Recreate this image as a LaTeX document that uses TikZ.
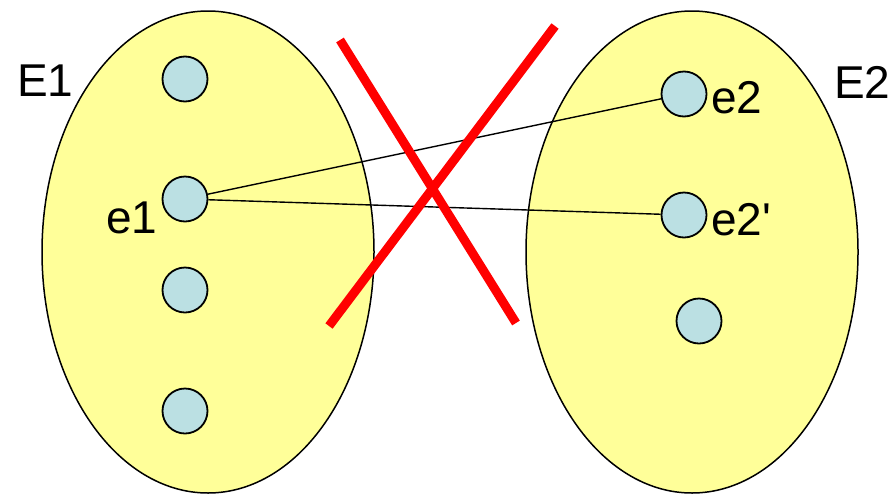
\documentclass[tikz,border=0pt]{standalone}
\usepackage{fontspec}
\setmainfont{Liberation Sans}
\usetikzlibrary{shapes.geometric}
\definecolor{setyellow}{HTML}{FFFF99}
\definecolor{dotblue}{HTML}{BBE0E3}
\begin{document}
\begin{tikzpicture}[x=1pt,y=-1pt,
  setell/.style={ellipse,draw=black,line width=1.5pt,fill=setyellow,inner sep=0pt,minimum width=332pt,minimum height=482pt},
  dot/.style={circle,draw=black,line width=1.8pt,fill=dotblue,inner sep=0pt,minimum size=45pt},
  lbl/.style={font=\fontsize{46}{50}\selectfont,inner sep=0pt},
  link/.style={draw=black,line width=1.4pt},
  cross/.style={draw=red,line width=9pt}]
\useasboundingbox (0,0) rectangle (891,493);
\node[setell] (E1) at (208,252) {};
\node[setell] (E2) at (692,252) {};
\node[dot] (a1) at (185,79) {};
\node[dot] (e1) at (185,199) {};
\node[dot] (a3) at (185,290) {};
\node[dot] (a4) at (185,411) {};
\node[dot] (e2) at (684,94) {};
\node[dot] (e2p) at (684,215) {};
\node[dot] (b3) at (699,321) {};
\node[lbl,anchor=base west] (tE1) at (17,96) {E1};
\node[lbl,anchor=base west] (tE2) at (834,98) {E2};
\node[lbl,anchor=base west] (te1) at (106,233) {e1};
\node[lbl,anchor=base west] (te2) at (711,113) {e2};
\node[lbl,anchor=base west] (te2p) at (711,235) {e2\textquotesingle};
\draw[link] (e1) -- (e2);
\draw[link] (e1) -- (e2p);
\coordinate (x1a) at (340,40);
\coordinate (x1b) at (516,323);
\coordinate (x2a) at (555,26);
\coordinate (x2b) at (329,326);
\draw[cross] (x1a) -- (x1b);
\draw[cross] (x2a) -- (x2b);
\end{tikzpicture}
\end{document}
